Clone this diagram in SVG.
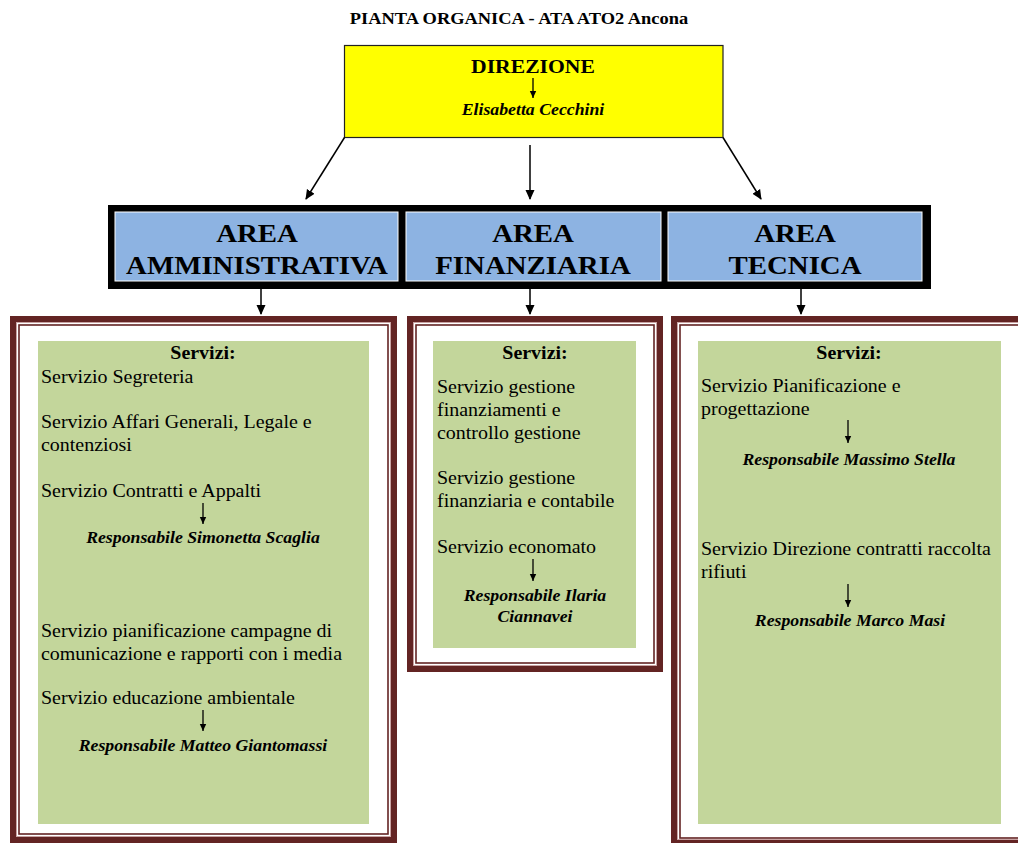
<svg xmlns="http://www.w3.org/2000/svg" width="1018" height="843" viewBox="0 0 1018 843">
<style>
text{font-family:"Liberation Serif","Times New Roman",serif;fill:#000}
.title{font-size:16.6px;font-weight:bold}
.dir{font-size:19.5px;font-weight:bold}
.name{font-size:16px;font-weight:bold;font-style:italic}
.area{font-size:26px;font-weight:bold}
.body{font-size:18px}
.head{font-size:18px;font-weight:bold}
.resp{font-size:16px;font-weight:bold;font-style:italic}
.mid{text-anchor:middle}
.conn{stroke:#000;stroke-width:1.5;fill:none}
.tick{stroke:#000;stroke-width:1.3;fill:none}
.frame{fill:#fff;stroke:#632423;stroke-width:6}
.frame2{fill:none;stroke:#632423;stroke-width:1.6}
.frame3{fill:none;stroke:#c9a3a3;stroke-width:1}
.green{fill:#c3d69b}
.blue{fill:#8db3e2;stroke:#fff;stroke-width:1}
</style>
<defs>
<marker id="ah" markerWidth="10" markerHeight="10" refX="9" refY="5" orient="auto" markerUnits="userSpaceOnUse">
<path d="M0,0.5 L10,5 L0,9.5 Z" fill="#000"/>
</marker>
<marker id="sh" markerWidth="8" markerHeight="8" refX="7" refY="4" orient="auto" markerUnits="userSpaceOnUse">
<path d="M0,0.8 L7,4 L0,7.2 Z" fill="#000"/>
</marker>
</defs>
<rect width="1018" height="843" fill="#fff"/>

<text class="title mid" transform="translate(519,24) scale(1.11,1)">PIANTA ORGANICA - ATA ATO2 Ancona</text>

<g id="direzione">
<rect x="344.5" y="45.5" width="378.5" height="92" fill="#ffff00" stroke="#222" stroke-width="1.2"/>
<text class="dir mid" transform="translate(533,73) scale(1.11,1)">DIREZIONE</text>
<line class="tick" x1="533" y1="78" x2="533" y2="98" marker-end="url(#sh)"/>
<text class="name mid" transform="translate(533,115) scale(1.11,1)">Elisabetta Cecchini</text>
</g>

<g id="aree">
<rect x="108" y="205" width="823" height="84" fill="#000"/>
<g id="area-amministrativa">
<rect class="blue" x="115" y="212" width="283" height="69"/>
<text class="area mid" transform="translate(257,242) scale(1.11,1)">AREA</text>
<text class="area mid" transform="translate(257,274) scale(1.11,1)">AMMINISTRATIVA</text>
</g>
<g id="area-finanziaria">
<rect class="blue" x="406" y="212" width="255" height="69"/>
<text class="area mid" transform="translate(533,242) scale(1.11,1)">AREA</text>
<text class="area mid" transform="translate(533,274) scale(1.11,1)">FINANZIARIA</text>
</g>
<g id="area-tecnica">
<rect class="blue" x="668" y="212" width="254" height="69"/>
<text class="area mid" transform="translate(795,242) scale(1.11,1)">AREA</text>
<text class="area mid" transform="translate(795,274) scale(1.11,1)">TECNICA</text>
</g>
</g>

<g id="connectors">
<line class="conn" x1="344.5" y1="137.5" x2="306" y2="199" marker-end="url(#ah)"/>
<line class="conn" x1="530" y1="145" x2="530" y2="199" marker-end="url(#ah)"/>
<line class="conn" x1="723" y1="137.5" x2="761" y2="199" marker-end="url(#ah)"/>
<line class="conn" x1="261" y1="289" x2="261" y2="314" marker-end="url(#ah)"/>
<line class="conn" x1="530" y1="289" x2="530" y2="314" marker-end="url(#ah)"/>
<line class="conn" x1="801" y1="289" x2="801" y2="314" marker-end="url(#ah)"/>
</g>

<g id="servizi-amministrativa">
<rect class="frame" x="13" y="319" width="381" height="521"/>
<rect class="frame3" x="16.5" y="322.5" width="374" height="514"/>
<rect class="frame2" x="19" y="325" width="369" height="509"/>
<rect class="green" x="38" y="341" width="331" height="483"/>
<text class="head mid" transform="translate(203,359) scale(1.11,1)">Servizi:</text>
<text class="body" transform="translate(41,383) scale(1.11,1)">Servizio Segreteria</text>
<text class="body" transform="translate(41,428) scale(1.11,1)">Servizio Affari Generali, Legale e</text>
<text class="body" transform="translate(41,451) scale(1.11,1)">contenziosi</text>
<text class="body" transform="translate(41,497) scale(1.11,1)">Servizio Contratti e Appalti</text>
<line class="tick" x1="203" y1="503" x2="203" y2="524" marker-end="url(#sh)"/>
<text class="resp mid" transform="translate(203,543) scale(1.11,1)">Responsabile Simonetta Scaglia</text>
<text class="body" transform="translate(41,637) scale(1.11,1)">Servizio pianificazione campagne di</text>
<text class="body" transform="translate(41,660) scale(1.11,1)">comunicazione e rapporti con i media</text>
<text class="body" transform="translate(41,704) scale(1.11,1)">Servizio educazione ambientale</text>
<line class="tick" x1="203" y1="710" x2="203" y2="731" marker-end="url(#sh)"/>
<text class="resp mid" transform="translate(203,751) scale(1.11,1)">Responsabile Matteo Giantomassi</text>
</g>

<g id="servizi-finanziaria">
<rect class="frame" x="410" y="319" width="250" height="350"/>
<rect class="frame3" x="413.5" y="322.5" width="243" height="343"/>
<rect class="frame2" x="416" y="325" width="238" height="338"/>
<rect class="green" x="433" y="341" width="203" height="307"/>
<text class="head mid" transform="translate(535,359) scale(1.11,1)">Servizi:</text>
<text class="body" transform="translate(437,393) scale(1.11,1)">Servizio gestione</text>
<text class="body" transform="translate(437,416) scale(1.11,1)">finanziamenti e</text>
<text class="body" transform="translate(437,439) scale(1.11,1)">controllo gestione</text>
<text class="body" transform="translate(437,484) scale(1.11,1)">Servizio gestione</text>
<text class="body" transform="translate(437,507) scale(1.11,1)">finanziaria e contabile</text>
<text class="body" transform="translate(437,553) scale(1.11,1)">Servizio economato</text>
<line class="tick" x1="533" y1="559" x2="533" y2="581" marker-end="url(#sh)"/>
<text class="resp mid" transform="translate(535,601) scale(1.11,1)">Responsabile Ilaria</text>
<text class="resp mid" transform="translate(535,622) scale(1.11,1)">Ciannavei</text>
</g>

<g id="servizi-tecnica">
<rect class="frame" x="674" y="319" width="360" height="524"/>
<rect class="frame3" x="677.5" y="322.5" width="353" height="517"/>
<rect class="frame2" x="680" y="325" width="348" height="513"/>
<rect class="green" x="698" y="341" width="303" height="483"/>
<text class="head mid" transform="translate(849,359) scale(1.11,1)">Servizi:</text>
<text class="body" transform="translate(701,392) scale(1.11,1)">Servizio Pianificazione e</text>
<text class="body" transform="translate(701,415) scale(1.11,1)">progettazione</text>
<line class="tick" x1="848" y1="420" x2="848" y2="443" marker-end="url(#sh)"/>
<text class="resp mid" transform="translate(849,465) scale(1.11,1)">Responsabile Massimo Stella</text>
<text class="body" transform="translate(701,555) scale(1.11,1)">Servizio Direzione contratti raccolta</text>
<text class="body" transform="translate(701,578) scale(1.11,1)">rifiuti</text>
<line class="tick" x1="848" y1="584" x2="848" y2="607" marker-end="url(#sh)"/>
<text class="resp mid" transform="translate(850,626) scale(1.11,1)">Responsabile Marco Masi</text>
</g>
</svg>
